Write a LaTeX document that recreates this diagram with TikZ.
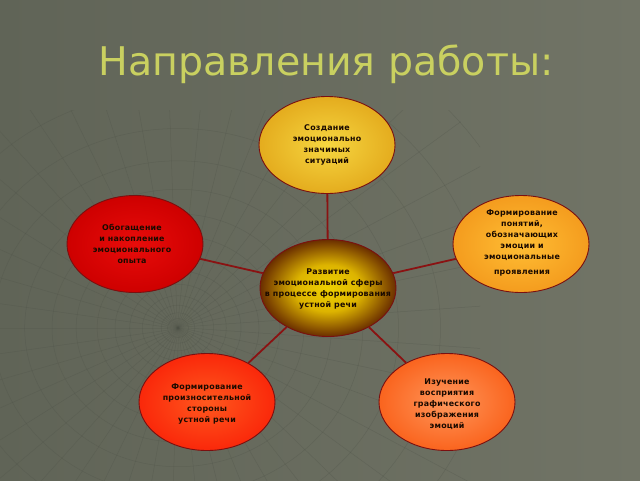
\documentclass[tikz,border=0pt]{standalone}
\usepackage{fontspec}
\setmainfont{DejaVu Sans}
\newfontfamily\nodefont[LetterSpace=3]{DejaVu Sans}
\usetikzlibrary{shapes.geometric}
\definecolor{bgL}{HTML}{606457}
\definecolor{bgR}{HTML}{717466}
\definecolor{titlecol}{HTML}{C9D060}
\definecolor{rimcol}{HTML}{7A1010}
\definecolor{linkcol}{HTML}{8A1212}
\definecolor{txtcol}{HTML}{1A0A00}
\definecolor{meshcol}{HTML}{4C5046}
\definecolor{cyA}{HTML}{EED000}
\definecolor{cyB}{HTML}{DDB400}
\definecolor{cbr}{HTML}{6A2E00}
\pgfdeclareradialshading{centershade}{\pgfpoint{0bp}{0bp}}{%
  color(0bp)=(cyA);
  color(12bp)=(cyB);
  color(25bp)=(cbr);
  color(50bp)=(cbr)}
\tikzset{
  bub/.style={ellipse, draw=rimcol, line width=0.9pt, minimum width=136pt, minimum height=97pt, inner sep=0pt},
  txt/.style={font=\nodefont\bfseries\fontsize{7.9}{10.9}\selectfont, text=txtcol, align=center},
  link/.style={draw=linkcol, line width=1.8pt},
}
\begin{document}
\begin{tikzpicture}[x=1pt,y=-1pt]
\useasboundingbox (0,0) rectangle (640,480);
\shade[left color=bgL, right color=bgR] (0,0) rectangle (640,480);
% faint mesh
\begin{scope}
\clip (0,110) rectangle (480,480);
\foreach \r in {10,16,24,34,46,60,77,97,120,146,176,210,250,295,345}{
  \draw[meshcol, opacity=0.3, line width=0.5pt] (178,328) ellipse ({\r*1.05} and {\r*0.95});
}
\foreach \a in {0,8,...,352}{
  \draw[meshcol, opacity=0.3, line width=0.5pt] (178,328) -- ++(\a:10) -- ++(\a+4:340);
}
\end{scope}
% title
\node (title) [text=titlecol, font=\fontsize{39.5}{42}\selectfont] at (326,64) {Направления работы:};
% nodes
\node (c) [bub, shading=centershade] at (328,288) {};
\node (t) [bub, inner color={rgb,255:red,246;green,214;blue,64}, outer color={rgb,255:red,228;green,172;blue,30}] at (327,145) {};
\node (l) [bub, inner color={rgb,255:red,232;green,12;blue,10}, outer color={rgb,255:red,206;green,0;blue,0}] at (135,244) {};
\node (r) [bub, inner color={rgb,255:red,255;green,190;blue,52}, outer color={rgb,255:red,244;green,156;blue,30}] at (521,244) {};
\node (bl) [bub, inner color={rgb,255:red,255;green,88;blue,30}, outer color={rgb,255:red,250;green,40;blue,10}] at (207,402) {};
\node (br) [bub, inner color={rgb,255:red,255;green,150;blue,90}, outer color={rgb,255:red,250;green,100;blue,30}] at (447,402) {};
% links
\draw[link] (c) -- (t);
\draw[link] (c) -- (l);
\draw[link] (c) -- (r);
\draw[link] (c) -- (bl);
\draw[link] (c) -- (br);
% texts
\node (tt) [txt] at (327,145) {Создание\\эмоционально\\значимых\\ситуаций};
\node (lt) [txt] at (132,244) {Обогащение\\и накопление\\эмоционального\\опыта};
\node (rt) [txt] at (522,243) {Формирование\\понятий,\\обозначающих\\эмоции и\\эмоциональные\\[4pt]проявления};
\node (ct) [txt] at (328,289) {Развитие\\эмоциональной сферы\\в процессе формирования\\устной речи};
\node (blt) [txt] at (207,404) {Формирование\\произносительной\\стороны\\устной речи};
\node (brt) [txt] at (447,404) {Изучение\\восприятия\\графического\\изображения\\эмоций};
\end{tikzpicture}
\end{document}
